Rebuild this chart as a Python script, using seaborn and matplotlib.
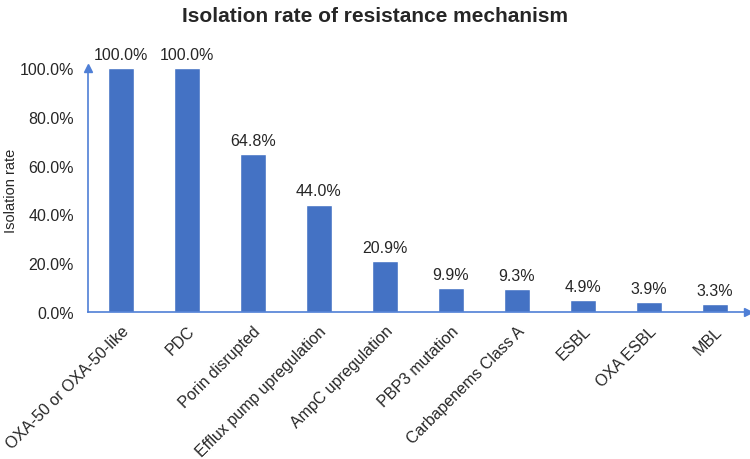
import matplotlib
matplotlib.use("Agg")
import matplotlib.pyplot as plt
import seaborn as sns
import pandas as pd
from matplotlib.ticker import FuncFormatter

mechanisms = [
    "OXA-50 or OXA-50-like", "PDC", "Porin disrupted", "Efflux pump upregulation",
    "AmpC upregulation", "PBP3 mutation", "Carbapenems Class A", "ESBL",
    "OXA ESBL", "MBL",
]
rates = [100.0, 100.0, 64.8, 44.0, 20.9, 9.9, 9.3, 4.9, 3.9, 3.3]

df = pd.DataFrame({"mechanism": mechanisms, "rate": rates})

sns.set_style("white")
plt.rcParams["font.family"] = ["Liberation Sans", "DejaVu Sans"]

bar_color = "#4472C4"
axis_color = "#4F7FD6"

fig = plt.figure(figsize=(7.5, 4.6), dpi=100)
ax = fig.add_axes([0.117, 0.32, 0.88, 0.53])

sns.barplot(data=df, x="mechanism", y="rate", color=bar_color, width=0.4,
            saturation=1, ax=ax)

for i, v in enumerate(rates):
    ax.text(i, v + 2.5, f"{v:.1f}%", ha="center", va="bottom", fontsize=11.5)

ax.set_ylim(0, 100)
ax.set_xlim(-0.5, len(mechanisms) - 0.5)
ax.set_yticks([0, 20, 40, 60, 80, 100])
ax.yaxis.set_major_formatter(FuncFormatter(lambda y, _: f"{y:.1f}%"))
ax.tick_params(axis="y", labelsize=11.5, length=0, pad=10)
ax.tick_params(axis="x", labelsize=11.5, length=0, pad=8)
plt.setp(ax.get_xticklabels(), rotation=45, ha="right", rotation_mode="anchor")

ax.set_xlabel("")
ax.set_ylabel("Isolation rate", fontsize=10.5)
ax.yaxis.set_label_coords(-0.105, 0.5)

for side in ["top", "right"]:
    ax.spines[side].set_visible(False)
for side in ["left", "bottom"]:
    ax.spines[side].set_color(axis_color)
    ax.spines[side].set_linewidth(1.2)

# arrow heads at the ends of the axes
ax.plot(1, 0, ">", color=axis_color, markersize=6, transform=ax.transAxes, clip_on=False)
ax.plot(0, 1, "^", color=axis_color, markersize=6, transform=ax.transAxes, clip_on=False)

fig.suptitle("Isolation rate of resistance mechanism", fontsize=15,
             fontweight="bold", y=0.985)

fig.savefig("out.png", dpi=100)
